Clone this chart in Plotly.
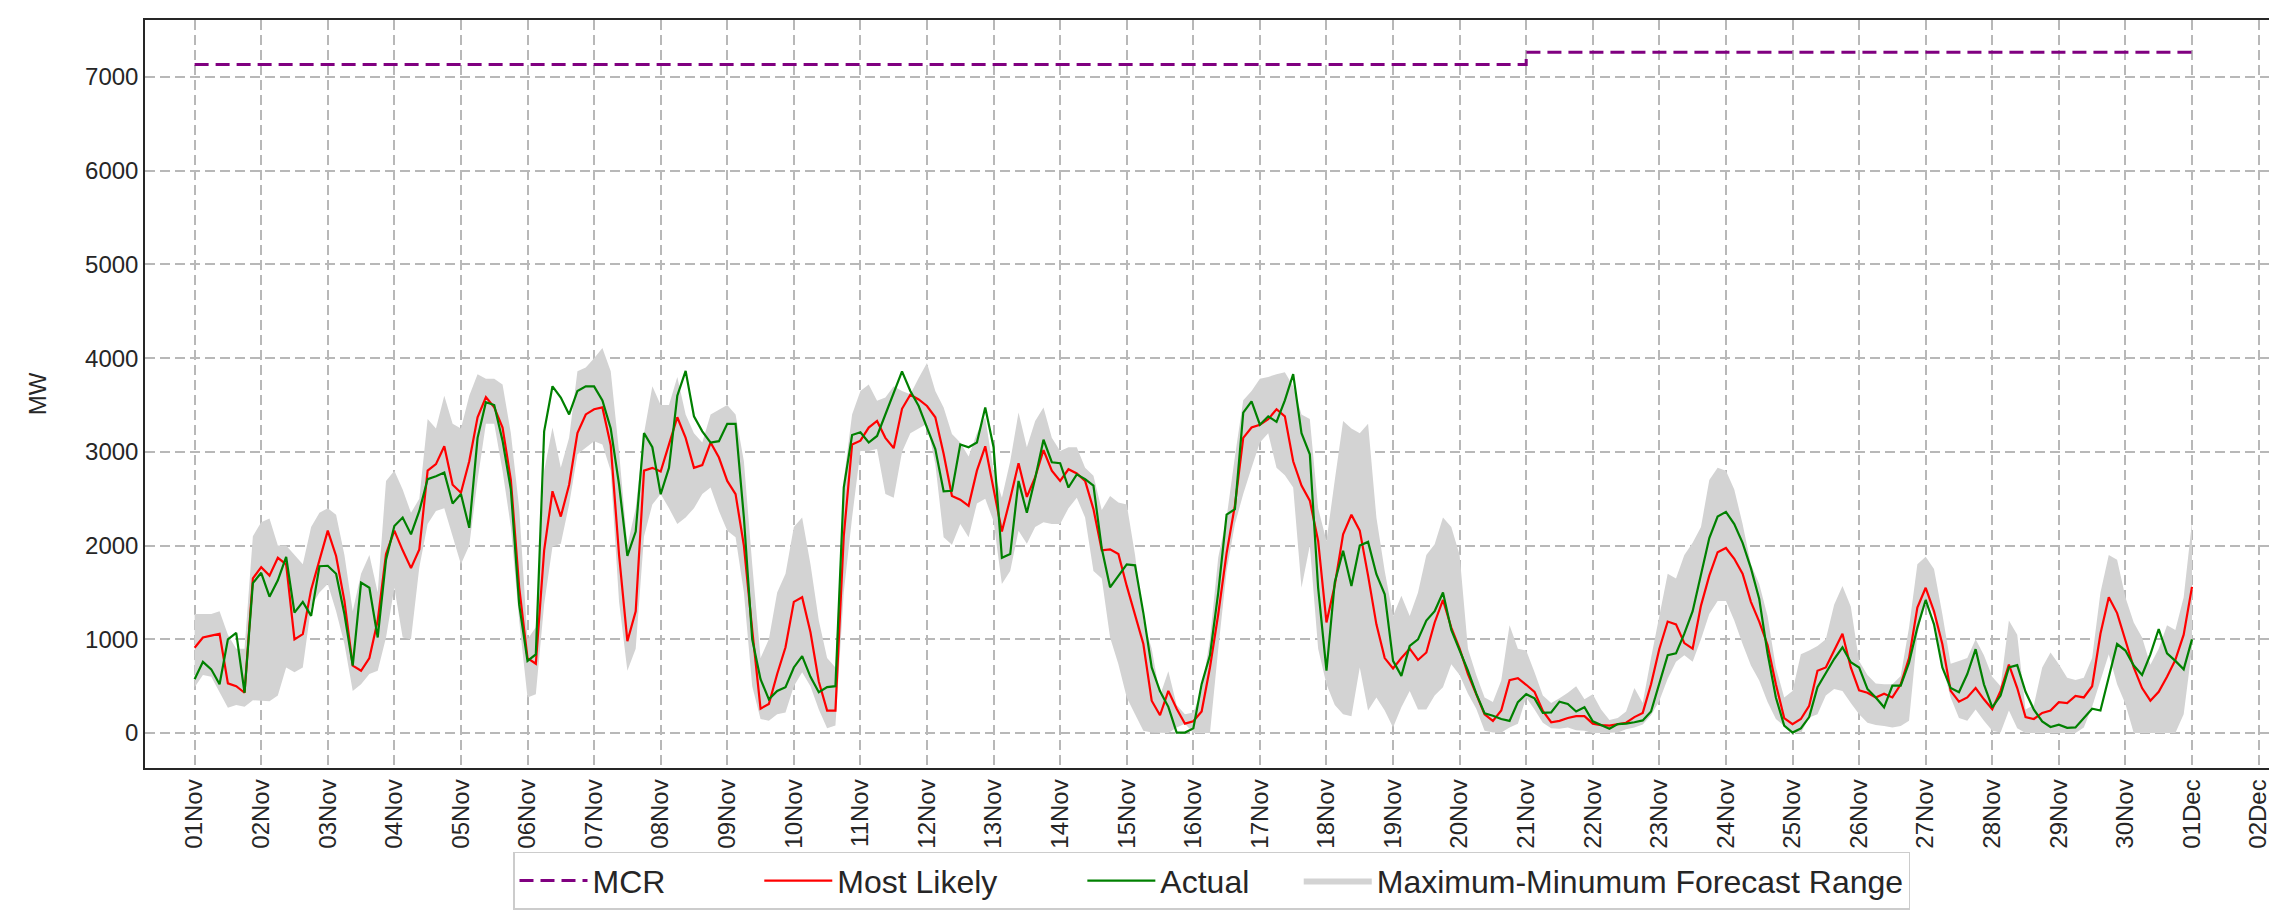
import pandas as pd
import plotly.graph_objects as go

# ---------------- data (3-hourly, 01 Nov 00:00 -> 01 Dec 00:00) ----------------
start_time = "2023-11-01 00:00"

most_likely = [
    910, 1020, 1040, 1060, 530, 500, 430, 1650,        # 01Nov
    1770, 1680, 1870, 1800, 1000, 1055, 1530, 1850,    # 02Nov
    2160, 1890, 1410, 720, 665, 800, 1200, 1910,       # 03Nov
    2160, 1950, 1760, 1960, 2800, 2870, 3060, 2650,    # 04Nov
    2565, 2900, 3370, 3585, 3475, 3260, 2700, 1555,    # 05Nov
    800, 740, 1950, 2580, 2310, 2650, 3200, 3400,      # 06Nov
    3455, 3475, 3070, 1900, 980, 1300, 2800, 2830,     # 07Nov
    2790, 3080, 3370, 3150, 2830, 2860, 3100, 2940,    # 08Nov
    2690, 2550, 2000, 1100, 260, 310, 630, 915,        # 09Nov
    1400, 1450, 1075, 550, 240, 240, 2100, 3080,       # 10Nov
    3120, 3260, 3330, 3150, 3040, 3460, 3610, 3560,    # 11Nov
    3490, 3370, 2980, 2530, 2490, 2425, 2800, 3060,    # 12Nov
    2620, 2150, 2500, 2880, 2520, 2730, 3020, 2800,    # 13Nov
    2690, 2815, 2770, 2690, 2390, 1950, 1960, 1910,    # 14Nov
    1570, 1270, 950, 345, 190, 450, 260, 100,          # 15Nov
    125, 230, 700, 1270, 1920, 2430, 3150, 3260,       # 16Nov
    3290, 3350, 3455, 3380, 2900, 2640, 2480, 2050,    # 17Nov
    1180, 1580, 2120, 2330, 2160, 1680, 1160, 800,     # 18Nov
    690, 800, 900, 780, 860, 1180, 1420, 1125,         # 19Nov
    900, 630, 410, 200, 130, 240, 565, 585,            # 20Nov
    515, 440, 235, 115, 130, 160, 180, 180,            # 21Nov
    100, 85, 80, 95, 110, 170, 215, 520,               # 22Nov
    900, 1190, 1160, 960, 900, 1360, 1680, 1930,       # 23Nov
    1975, 1860, 1700, 1400, 1190, 940, 520, 160,       # 24Nov
    95, 150, 290, 665, 700, 880, 1060, 700,            # 25Nov
    455, 430, 380, 420, 380, 520, 800, 1340,           # 26Nov
    1550, 1300, 950, 450, 335, 380, 480, 360,          # 27Nov
    255, 450, 730, 480, 170, 150, 215, 240,            # 28Nov
    330, 320, 395, 380, 500, 1060, 1450, 1280,         # 29Nov
    1000, 700, 480, 345, 440, 600, 780, 1050,          # 30Nov
    1560,                                              # 01Dec
]

actual = [
    575, 760, 680, 520, 1000, 1070, 430, 1600,
    1710, 1455, 1630, 1880, 1285, 1400, 1250, 1780,
    1785, 1700, 1270, 720, 1605, 1550, 1020, 1850,
    2210, 2300, 2120, 2370, 2710, 2740, 2780, 2450,
    2550, 2190, 3150, 3530, 3500, 3120, 2600, 1370,
    770, 840, 3220, 3700, 3580, 3400, 3650, 3700,
    3700, 3550, 3250, 2650, 1890, 2150, 3200, 3050,
    2550, 2830, 3600, 3865, 3380, 3220, 3100, 3115,
    3300, 3300, 2300, 1000, 575, 360, 450, 490,
    700, 820, 600, 435, 490, 500, 2620, 3180,
    3210, 3100, 3170, 3400, 3650, 3860, 3650, 3490,
    3260, 3030, 2580, 2585, 3080, 3050, 3100, 3475,
    3050, 1870, 1910, 2690, 2350, 2720, 3130, 2890,
    2880, 2620, 2760, 2710, 2640, 1970, 1555, 1680,
    1800, 1790, 1280, 700, 445, 280, 5, 5,
    50, 520, 830, 1500, 2330, 2390, 3420, 3540,
    3290, 3380, 3320, 3550, 3830, 3200, 2975, 1550,
    665, 1610, 1945, 1570, 2000, 2040, 1695, 1480,
    770, 610, 930, 1000, 1200, 1300, 1500, 1100,
    880, 665, 420, 210, 185, 150, 130, 330,
    415, 370, 215, 220, 335, 310, 230, 275,
    125, 85, 45, 95, 100, 115, 135, 230,
    520, 830, 850, 1060, 1300, 1700, 2080, 2310,
    2360, 2230, 2030, 1760, 1430, 850, 380, 80,
    5, 50, 170, 490, 640, 790, 915, 755,
    700, 470, 380, 275, 505, 505, 750, 1125,
    1420, 1160, 700, 480, 435, 630, 895, 520,
    275, 400, 700, 725, 440, 250, 125, 65,
    90, 55, 60, 160, 260, 240, 600, 950,
    880, 720, 620, 840, 1110, 850, 770, 680,
    1000,
]

range_max = [
    1270, 1270, 1270, 1300, 1050, 900, 900, 2100,
    2250, 2290, 2000, 2000, 1900, 1800, 2200, 2350,
    2400, 2330, 1900, 1300, 1700, 1900, 1500, 2690,
    2800, 2600, 2350, 2500, 3350, 3250, 3600, 3300,
    3250, 3600, 3830, 3780, 3780, 3720, 3200, 2400,
    1000, 1130, 2800, 3260, 2830, 3150, 3860, 3900,
    4000, 4110, 3860, 3000, 2000, 2400, 3200, 3700,
    3500, 3500, 3800, 3400, 3200, 3100, 3400, 3450,
    3500, 3400, 2900, 1800, 800, 1000, 1500, 1700,
    2200, 2300, 1800, 1200, 800, 700, 2700, 3400,
    3650, 3720, 3545, 3580, 3700, 3650, 3615, 3790,
    3950, 3650, 3475, 3190, 3100, 2950, 3200, 3370,
    2800, 2510, 2900, 3420, 3050, 3330, 3475, 3150,
    3010, 3050, 3050, 2830, 2745, 2380, 2530, 2460,
    2440, 1900, 1200, 900, 400, 660, 300, 200,
    220, 450, 1000, 1875, 2300, 2950, 3550, 3650,
    3780, 3800, 3830, 3850, 3700, 3400, 3350, 2400,
    2050, 2700, 3330, 3250, 3200, 3300, 2300, 1730,
    1250, 1465, 1250, 1500, 1900, 2015, 2300, 2200,
    1900, 900, 620, 380, 330, 560, 1150, 900,
    880, 650, 400, 320, 370, 430, 500, 360,
    415, 250, 140, 160, 230, 480, 320, 800,
    1270, 1700, 1650, 1900, 2030, 2200, 2700, 2830,
    2800, 2600, 2230, 1800, 1590, 1250, 700, 380,
    450, 840, 880, 930, 1000, 1370, 1570, 1350,
    770, 620, 530, 520, 520, 610, 1125, 1800,
    1880, 1750, 1270, 740, 770, 800, 1000, 830,
    600, 500, 1200, 1050, 250, 300, 700, 860,
    735, 590, 565, 590, 800, 1500, 1900, 1850,
    1450, 1180, 1020, 730, 900, 1150, 1100, 1450,
    2250,
]

range_min = [
    490, 620, 600, 430, 270, 300, 280, 350,
    345, 340, 400, 700, 650, 700, 1350, 1500,
    1590, 1300, 950, 450, 520, 630, 665, 1020,
    1550, 1020, 1000, 1770, 2230, 2370, 2400, 2090,
    1800, 2000, 2700, 3300, 3300, 2800, 2200, 1200,
    380, 415, 1375, 1990, 2020, 2440, 2975, 3045,
    3115, 3080, 2800, 1400, 665, 900, 2100, 2440,
    2550, 2400, 2230, 2300, 2400, 2550, 2620, 2370,
    2160, 2090, 1500, 500, 150, 130, 200, 220,
    500, 650, 500, 250, 50, 80, 1500, 2300,
    3010, 3010, 3030, 2550, 2510, 3000, 3200, 3250,
    3300, 2870, 2090, 2010, 2230, 2090, 2450, 2500,
    2260, 1590, 1730, 2160, 2020, 2200, 2250, 2230,
    2230, 2400, 2510, 2300, 1730, 1650, 1020, 735,
    380, 200, 25, 5, 0, 0, 60, 100,
    0, 0, 0, 900, 1730, 2230, 2550, 2830,
    3100, 3200, 2830, 2750, 2620, 1550, 2000, 900,
    520, 300, 200, 180, 700, 240, 380, 240,
    60, 275, 450, 250, 250, 400, 490, 735,
    620, 420, 260, 25, 5, 5, 60, 100,
    380, 250, 110, 50, 45, 60, 30, 25,
    0, 0, 0, 5, 40, 60, 90, 190,
    345, 580, 760, 830, 760, 1000, 1270, 1410,
    1410, 1200, 950, 720, 560, 330, 150, 70,
    0, 0, 165, 200, 400, 470, 450, 320,
    200, 110, 85, 75, 60, 75, 130, 1050,
    1450, 1250, 720, 380, 160, 130, 250, 130,
    25, 5, 240, 50, 0, 0, 0, 0,
    0, 0, 0, 60, 280, 560, 840, 520,
    310, 0, 0, 0, 0, 0, 0, 200,
    900,
]

mcr_dates = ["2023-11-01 00:00", "2023-11-21 00:00", "2023-12-01 00:00"]
mcr_values = [7135, 7265, 7265]

y_ticks = [0, 1000, 2000, 3000, 4000, 5000, 6000, 7000]
x_tick_dates = pd.date_range("2023-11-01", "2023-12-02", freq="D")
x_tick_labels = [d.strftime("%d%b") for d in x_tick_dates]

times = pd.date_range(start_time, periods=len(most_likely), freq="3h")

# ---------------- figure ----------------
FONT = "Arial, 'Liberation Sans', Helvetica, sans-serif"
TXT = "#262626"
TICK_SIZE = 24
LEGEND_SIZE = 32
NB = "\u00a0"   # non-breaking space used as legend column spacing

fig = go.Figure()

fig.add_trace(go.Scatter(
    x=times, y=range_min, mode="lines", line=dict(width=0, color="lightgray"),
    showlegend=False, hoverinfo="skip"))
fig.add_trace(go.Scatter(
    x=times, y=range_max, mode="lines", line=dict(width=0, color="lightgray"),
    fill="tonexty", fillcolor="#d3d3d3",
    name="Maximum-Minumum Forecast Range", legendrank=4))
fig.add_trace(go.Scatter(
    x=times, y=most_likely, mode="lines", line=dict(color="#ff0000", width=2.2),
    name="Most Likely" + NB * 9, legendrank=2))
fig.add_trace(go.Scatter(
    x=times, y=actual, mode="lines", line=dict(color="#008000", width=2.2),
    name="Actual" + NB * 5, legendrank=3))
fig.add_trace(go.Scatter(
    x=mcr_dates, y=mcr_values, mode="lines", line_shape="hv",
    line=dict(color="#800080", width=3, dash="14px,7px"),
    name="MCR" + NB * 10, legendrank=1))

axis_common = dict(
    showgrid=True, gridcolor="#b8b8b8", gridwidth=1.5, griddash="10px,5px",
    showline=True, linecolor=TXT, linewidth=1.5, mirror=True,
    ticks="", zeroline=False,
    tickfont=dict(family=FONT, size=TICK_SIZE, color=TXT),
)

fig.update_layout(
    width=2277, height=915,
    margin=dict(l=137, r=5, t=12, b=155),
    plot_bgcolor="white", paper_bgcolor="white",
    font=dict(family=FONT, size=TICK_SIZE, color=TXT),
    xaxis=dict(
        range=["2023-10-31 06:07", "2023-12-02 07:00"],
        tickmode="array", tickvals=x_tick_dates, ticktext=x_tick_labels,
        tickangle=-90, **axis_common),
    yaxis=dict(
        range=[-373, 7609], tickmode="array", tickvals=y_ticks,
        ticktext=[str(v) for v in y_ticks],
        title=dict(text="MW", font=dict(family=FONT, size=TICK_SIZE, color=TXT), standoff=32),
        **axis_common),
    legend=dict(
        orientation="h", x=0.5, xanchor="center", y=-0.112, yanchor="top",
        bordercolor="#cccccc", borderwidth=1.5, bgcolor="white",
        font=dict(family=FONT, size=LEGEND_SIZE, color=TXT), itemwidth=68,
        traceorder="normal"),
    showlegend=True,
)

fig.write_html("out.html")
